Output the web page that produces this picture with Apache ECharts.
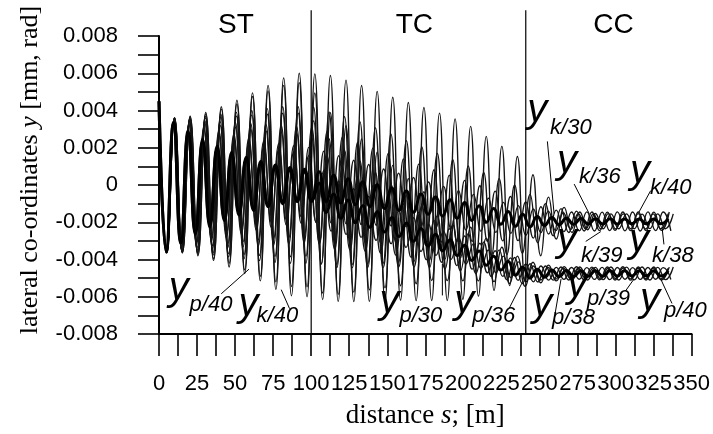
<!DOCTYPE html>
<html>
<head>
<meta charset="utf-8">
<script src="https://cdn.jsdelivr.net/npm/echarts/dist/echarts.min.js"></script>
<style>
  html, body { margin: 0; padding: 0; background: #fff; }
  #chart { width: 713px; height: 434px; }
</style>
</head>
<body>
<div id="chart"></div>
<script>
// Lateral displacements along the route: straight track (ST), transition curve (TC), circular curve (CC).
// Each response is stored as its successive extremes, sampled every half wavelength [m].

const halfWave = { v40: 5.12, v39: 5.08, v38: 5.02, v36: 4.92, v30: 4.78 };

const yk40 = [4.5e-3,-3.6e-3,3.6e-3,-3.65e-3,3.7e-3,-3.8e-3,3.9e-3,-4.05e-3,4.2e-3,-4.4e-3,4.55e-3,-4.75e-3,4.95e-3,-5.15e-3,5.35e-3,-5.6e-3,5.75e-3,-5.95e-3,6.0e-3,-6.0e-3,
  5.97e-3,-6.15e-3,5.88e-3,-6.25e-3,5.63e-3,-6.26e-3,5.34e-3,-6.25e-3,5.03e-3,-6.2e-3,4.71e-3,-6.18e-3,4.43e-3,-6.21e-3,4.16e-3,-6.2e-3,3.86e-3,-6.2e-3,3.55e-3,-6.14e-3,3.15e-3,-5.97e-3,2.61e-3,-5.66e-3,2.07e-3,-5.4e-3,1.53e-3,-5.14e-3,
  0.55e-3,-3.8e-3,-0.65e-3,-2.9e-3,-1.2e-3,-2.55e-3,-1.45e-3,-2.4e-3,-1.53e-3,-2.35e-3,-1.55e-3,-2.35e-3,-1.55e-3,-2.35e-3,-1.56e-3,-2.34e-3,-1.55e-3,-2.35e-3,-1.55e-3];

const yp40 = [4.5e-3,-3.6e-3,3.6e-3,-3.62e-3,3.65e-3,-3.73e-3,3.82e-3,-3.95e-3,4.07e-3,-4.2e-3,4.35e-3,-4.55e-3,4.75e-3,-4.9e-3,5.05e-3,-5.2e-3,5.35e-3,-5.45e-3,5.5e-3,-5.47e-3,
  4.94e-3,-5.8e-3,3.88e-3,-5.87e-3,3.18e-3,-5.75e-3,2.47e-3,-5.63e-3,1.76e-3,-5.52e-3,1.05e-3,-5.41e-3,0.34e-3,-5.3e-3,-0.36e-3,-5.13e-3,-1.07e-3,-5.13e-3,-1.66e-3,-5.15e-3,-2.26e-3,-5.15e-3,-2.85e-3,-5.19e-3,-3.34e-3,-5.29e-3,-3.82e-3,-5.44e-3,
  -4.15e-3,-5.25e-3,-4.3e-3,-5.15e-3,-4.38e-3,-5.1e-3,-4.4e-3,-5.1e-3,-4.42e-3,-5.08e-3,-4.4e-3,-5.1e-3,-4.41e-3,-5.09e-3,-4.4e-3,-5.1e-3,-4.42e-3,-5.08e-3,-4.4e-3];

const yk39 = [4.5e-3,-3.6e-3,3.6e-3,-3.6e-3,3.6e-3,-3.65e-3,3.7e-3,-3.76e-3,3.8e-3,-3.86e-3,3.9e-3,-3.96e-3,4.0e-3,-4.06e-3,4.1e-3,-4.16e-3,4.2e-3,-4.2e-3,4.2e-3,-4.2e-3,
  4.18e-3,-4.22e-3,3.92e-3,-4.26e-3,3.67e-3,-4.27e-3,3.38e-3,-4.25e-3,3.07e-3,-4.2e-3,2.73e-3,-4.14e-3,2.38e-3,-4.09e-3,2.04e-3,-4.03e-3,1.7e-3,-3.97e-3,1.36e-3,-3.91e-3,1.02e-3,-3.85e-3,0.68e-3,-3.79e-3,0.34e-3,-3.73e-3,0,-3.67e-3,
  -0.5e-3,-3.1e-3,-1.0e-3,-2.73e-3,-1.27e-3,-2.55e-3,-1.4e-3,-2.47e-3,-1.45e-3,-2.45e-3,-1.46e-3,-2.44e-3,-1.45e-3,-2.45e-3,-1.45e-3,-2.45e-3,-1.46e-3,-2.44e-3,-1.45e-3];

const yp39 = [4.5e-3,-3.6e-3,3.58e-3,-3.56e-3,3.55e-3,-3.57e-3,3.6e-3,-3.63e-3,3.65e-3,-3.68e-3,3.7e-3,-3.73e-3,3.75e-3,-3.78e-3,3.8e-3,-3.83e-3,3.85e-3,-3.85e-3,3.85e-3,-3.82e-3,
  3.44e-3,-4.25e-3,2.47e-3,-4.44e-3,1.86e-3,-4.44e-3,1.28e-3,-4.43e-3,0.67e-3,-4.43e-3,0.06e-3,-4.4e-3,-0.55e-3,-4.4e-3,-1.12e-3,-4.43e-3,-1.66e-3,-4.51e-3,-2.15e-3,-4.6e-3,-2.62e-3,-4.75e-3,-3.07e-3,-4.92e-3,-3.48e-3,-5.09e-3,-3.89e-3,-5.29e-3,
  -4.23e-3,-5.21e-3,-4.35e-3,-5.11e-3,-4.4e-3,-5.1e-3,-4.39e-3,-5.1e-3,-4.41e-3,-5.09e-3,-4.4e-3,-5.1e-3,-4.39e-3,-5.11e-3,-4.4e-3,-5.1e-3,-4.4e-3,-5.1e-3,-4.41e-3];

const yk38 = [4.5e-3,-3.6e-3,3.57e-3,-3.53e-3,3.5e-3,-3.47e-3,3.45e-3,-3.42e-3,3.4e-3,-3.37e-3,3.35e-3,-3.32e-3,3.3e-3,-3.27e-3,3.25e-3,-3.22e-3,3.2e-3,-3.17e-3,3.15e-3,-3.12e-3,
  3.09e-3,-3.12e-3,2.86e-3,-3.13e-3,2.57e-3,-3.12e-3,2.28e-3,-3.11e-3,1.98e-3,-3.1e-3,1.7e-3,-3.09e-3,1.4e-3,-3.08e-3,1.12e-3,-3.07e-3,0.82e-3,-3.06e-3,0.53e-3,-3.03e-3,0.25e-3,-3.03e-3,-0.04e-3,-3.02e-3,-0.33e-3,-3.0e-3,-0.62e-3,-2.99e-3,
  -0.91e-3,-2.85e-3,-1.17e-3,-2.63e-3,-1.35e-3,-2.5e-3,-1.45e-3,-2.46e-3,-1.44e-3,-2.47e-3,-1.46e-3,-2.45e-3,-1.44e-3,-2.46e-3,-1.45e-3,-2.47e-3,-1.44e-3,-2.45e-3,-1.45e-3,-2.46e-3];

const yp38 = [4.5e-3,-3.6e-3,3.53e-3,-3.47e-3,3.4e-3,-3.35e-3,3.3e-3,-3.25e-3,3.2e-3,-3.15e-3,3.1e-3,-3.05e-3,3.0e-3,-2.95e-3,2.9e-3,-2.87e-3,2.85e-3,-2.82e-3,2.8e-3,-2.77e-3,
  2.51e-3,-3.17e-3,1.59e-3,-3.46e-3,0.99e-3,-3.5e-3,0.45e-3,-3.57e-3,-0.04e-3,-3.67e-3,-0.53e-3,-3.76e-3,-1.02e-3,-3.88e-3,-1.47e-3,-4.01e-3,-1.91e-3,-4.15e-3,-2.35e-3,-4.33e-3,-2.74e-3,-4.52e-3,-3.13e-3,-4.71e-3,-3.53e-3,-4.91e-3,-3.91e-3,-5.12e-3,
  -4.25e-3,-5.2e-3,-4.35e-3,-5.11e-3,-4.42e-3,-5.07e-3,-4.43e-3,-5.06e-3,-4.44e-3,-5.07e-3,-4.42e-3,-5.08e-3,-4.43e-3,-5.06e-3,-4.44e-3,-5.07e-3,-4.43e-3,-5.06e-3,-4.44e-3,-5.07e-3];

const yk36 = [4.5e-3,-3.6e-3,3.5e-3,-3.4e-3,3.3e-3,-3.2e-3,3.1e-3,-3.01e-3,2.91e-3,-2.81e-3,2.72e-3,-2.62e-3,2.52e-3,-2.44e-3,2.37e-3,-2.29e-3,2.22e-3,-2.14e-3,2.11e-3,-2.07e-3,
  2.02e-3,-2.02e-3,1.81e-3,-2.05e-3,1.57e-3,-2.09e-3,1.33e-3,-2.12e-3,1.1e-3,-2.16e-3,0.86e-3,-2.2e-3,0.64e-3,-2.24e-3,0.4e-3,-2.28e-3,0.16e-3,-2.31e-3,-0.07e-3,-2.35e-3,-0.3e-3,-2.41e-3,-0.5e-3,-2.48e-3,-0.71e-3,-2.54e-3,-0.93e-3,-2.6e-3,-1.11e-3,-2.7e-3,
  -1.29e-3,-2.55e-3,-1.4e-3,-2.45e-3,-1.49e-3,-2.38e-3,-1.54e-3,-2.36e-3,-1.55e-3,-2.35e-3,-1.54e-3,-2.36e-3,-1.55e-3,-2.35e-3,-1.54e-3,-2.36e-3,-1.55e-3,-2.35e-3,-1.54e-3];

const yp36 = [4.5e-3,-3.6e-3,3.45e-3,-3.33e-3,3.2e-3,-3.08e-3,2.96e-3,-2.84e-3,2.72e-3,-2.59e-3,2.47e-3,-2.37e-3,2.27e-3,-2.17e-3,2.07e-3,-1.99e-3,1.92e-3,-1.85e-3,1.77e-3,-1.7e-3,
  1.58e-3,-2.02e-3,0.78e-3,-2.48e-3,0.21e-3,-2.65e-3,-0.2e-3,-2.81e-3,-0.61e-3,-2.97e-3,-1.01e-3,-3.15e-3,-1.39e-3,-3.35e-3,-1.76e-3,-3.57e-3,-2.11e-3,-3.78e-3,-2.48e-3,-4.0e-3,-2.82e-3,-4.24e-3,-3.15e-3,-4.48e-3,-3.49e-3,-4.71e-3,-3.82e-3,-4.97e-3,-4.13e-3,-5.2e-3,
  -4.35e-3,-5.1e-3,-4.43e-3,-5.05e-3,-4.46e-3,-5.04e-3,-4.47e-3,-5.03e-3,-4.46e-3,-5.04e-3,-4.47e-3,-5.03e-3,-4.46e-3,-5.04e-3,-4.47e-3,-5.03e-3,-4.46e-3,-5.04e-3,-4.47e-3];

const yk30 = [4.5e-3,-3.6e-3,3.35e-3,-3.13e-3,2.9e-3,-2.66e-3,2.45e-3,-2.26e-3,2.1e-3,-1.92e-3,1.76e-3,-1.62e-3,1.49e-3,-1.37e-3,1.26e-3,-1.17e-3,1.08e-3,-1.0e-3,0.94e-3,-0.89e-3,
  0.85e-3,-0.81e-3,0.71e-3,-0.89e-3,0.53e-3,-0.97e-3,0.34e-3,-1.06e-3,0.17e-3,-1.15e-3,0.01e-3,-1.26e-3,-0.16e-3,-1.36e-3,-0.32e-3,-1.46e-3,-0.48e-3,-1.57e-3,-0.64e-3,-1.67e-3,-0.79e-3,-1.79e-3,-0.94e-3,-1.9e-3,-1.11e-3,-2.0e-3,-1.26e-3,-2.11e-3,-1.42e-3,-2.22e-3,-1.57e-3,
  -2.25e-3,-1.69e-3,-2.18e-3,-1.75e-3,-2.13e-3,-1.78e-3,-2.11e-3,-1.8e-3,-2.1e-3,-1.81e-3,-2.09e-3,-1.81e-3,-2.09e-3,-1.82e-3,-2.08e-3,-1.82e-3,-2.08e-3,-1.82e-3,-2.08e-3,-1.82e-3];

const yp30 = [4.5e-3,-3.6e-3,3.3e-3,-3.04e-3,2.8e-3,-2.55e-3,2.33e-3,-2.12e-3,1.94e-3,-1.77e-3,1.61e-3,-1.47e-3,1.34e-3,-1.22e-3,1.11e-3,-1.02e-3,0.93e-3,-0.86e-3,0.79e-3,-0.74e-3,
  0.7e-3,-0.88e-3,0.09e-3,-1.47e-3,-0.49e-3,-1.79e-3,-0.81e-3,-2.03e-3,-1.12e-3,-2.27e-3,-1.43e-3,-2.52e-3,-1.74e-3,-2.77e-3,-2.04e-3,-3.02e-3,-2.34e-3,-3.27e-3,-2.64e-3,-3.53e-3,-2.94e-3,-3.79e-3,-3.24e-3,-4.05e-3,-3.54e-3,-4.31e-3,-3.83e-3,-4.57e-3,-4.11e-3,-4.84e-3,-4.41e-3,
  -5.0e-3,-4.53e-3,-4.95e-3,-4.57e-3,-4.92e-3,-4.59e-3,-4.91e-3,-4.6e-3,-4.9e-3,-4.6e-3,-4.9e-3,-4.61e-3,-4.89e-3,-4.61e-3,-4.89e-3,-4.61e-3,-4.89e-3,-4.61e-3,-4.89e-3,-4.61e-3];

// Section boundaries [m] and section names
const sectionBounds = [100, 241];
const sectionNames = ['ST', 'TC', 'CC'];

// Axis ranges and tick steps
const xMax = 350, xStep = 12.5, xLabelStep = 25;
const yMin = -0.008, yMax = 0.008, yStep = 0.001;

// ---------------------------------------------------------------
const FONT = '"Liberation Sans", Arial, sans-serif';
const SERIF = '"Liberation Serif", "Times New Roman", serif';

function track(step, vals) {
  return vals.map((v, i) => [Math.round(i * step * 100) / 100, v]);
}

function curve(name, step, vals, bold) {
  return {
    name, type: 'line', data: track(step, vals),
    smooth: 0.5, showSymbol: false, symbol: 'none',
    z: bold ? 4 : 3,
    lineStyle: bold ? { color: '#000', width: 3 } : { color: '#141414', width: 1.35 },
    emphasis: { disabled: true }, silent: true
  };
}

// where the section names and the curve tags sit, in axis units
const sectionNameAt = [[50.5, 0.00858], [167.8, 0.00858], [298.6, 0.00858]];
const dividerTop = 0.00938;
const tags = [
  { sub: 'p/40', yAt: [6.4, -5.59e-3],   subAt: [20.1, -6.45e-3],  from: [40.9, -5.84e-3],  to: [59.1, -4.52e-3] },
  { sub: 'k/40', yAt: [52.3, -6.41e-3],  subAt: [64.1, -7.04e-3],  from: [85.8, -6.64e-3],  to: [80.3, -5.62e-3] },
  { sub: 'p/30', yAt: [144.9, -6.30e-3], subAt: [158.0, -7.04e-3], from: [186.2, -5.93e-3], to: [186.2, -4.24e-3] },
  { sub: 'p/36', yAt: [194.0, -6.30e-3], subAt: [205.9, -7.04e-3], from: [230.1, -6.62e-3], to: [238.6, -5.25e-3] },
  { sub: 'k/30', yAt: [241.9, 3.99e-3],  subAt: [257.0, 3.05e-3],  from: [255.2, 2.34e-3],  to: [259.6, -1.54e-3] },
  { sub: 'k/36', yAt: [261.6, 1.26e-3],  subAt: [276.0, 0.42e-3],  from: [272.8, 0.05e-3],  to: [282.7, -1.54e-3] },
  { sub: 'k/40', yAt: [309.5, 0.73e-3],  subAt: [322.6, -0.18e-3], from: [323.1, -0.30e-3], to: [315.4, -1.45e-3] },
  { sub: 'k/39', yAt: [261.6, -2.95e-3], subAt: [277.3, -3.80e-3], from: [280.4, -3.03e-3], to: [290.3, -2.50e-3] },
  { sub: 'k/38', yAt: [308.9, -2.98e-3], subAt: [324.0, -3.80e-3], from: [331.8, -3.19e-3], to: [330.5, -2.24e-3] },
  { sub: 'p/38', yAt: [245.2, -6.44e-3], subAt: [258.3, -7.15e-3], from: [260.3, -6.89e-3], to: [264.2, -5.04e-3] },
  { sub: 'p/39', yAt: [268.2, -5.41e-3], subAt: [281.3, -6.09e-3], from: [306.7, -5.67e-3], to: [312.1, -5.05e-3] },
  { sub: 'p/40', yAt: [316.0, -6.15e-3], subAt: [331.8, -6.78e-3], from: [337.1, -6.36e-3], to: [329.7, -5.05e-3] }
];

const chart = echarts.init(document.getElementById('chart'), null, { renderer: 'canvas' });

const axisLineStyle = { color: '#000', width: 2 };

chart.setOption({
  animation: false,
  backgroundColor: '#fff',
  grid: { left: 159, right: 20, top: 36, bottom: 95, containLabel: false },
  xAxis: {
    type: 'value', min: 0, max: xMax, interval: xStep,
    name: 'distance {i|s}; [m]', nameLocation: 'middle', nameGap: 68,
    nameTextStyle: { fontFamily: SERIF, fontSize: 27, color: '#000',
      rich: { i: { fontFamily: SERIF, fontSize: 27, fontStyle: 'italic', color: '#000' } } },
    axisLine: { show: true, onZero: false, lineStyle: axisLineStyle },
    axisTick: { show: true, inside: false, length: 22, lineStyle: { color: '#000', width: 1.6 } },
    axisLabel: {
      margin: 39, color: '#000', fontFamily: FONT, fontSize: 22,
      formatter: v => {
        const q = v / xLabelStep;
        return Math.abs(q - Math.round(q)) < 1e-6 ? String(Math.round(v)) : '';
      }
    },
    splitLine: { show: false }
  },
  yAxis: {
    type: 'value', min: yMin, max: yMax, interval: yStep,
    name: 'lateral co-ordinates {i|y} [mm, rad]', nameLocation: 'middle', nameGap: 116, nameRotate: 90,
    nameTextStyle: { fontFamily: SERIF, fontSize: 26, color: '#000', padding: [0, 0, 0, 30],
      rich: { i: { fontFamily: SERIF, fontSize: 26, fontStyle: 'italic', color: '#000' } } },
    axisLine: { show: true, onZero: false, lineStyle: axisLineStyle },
    axisTick: { show: true, inside: false, length: 21, lineStyle: { color: '#000', width: 1.6 } },
    axisLabel: {
      margin: 41, color: '#000', fontFamily: FONT, fontSize: 22,
      formatter: v => {
        const k = Math.round(v * 1000);
        if (k % 2 !== 0) return '';
        return k === 0 ? '0' : (k / 1000).toFixed(3);
      }
    },
    splitLine: { show: false }
  },
  series: [
    curve('y_k/40', halfWave.v40, yk40, false),
    curve('y_p/40', halfWave.v40, yp40, false),
    curve('y_k/39', halfWave.v39, yk39, false),
    curve('y_p/39', halfWave.v39, yp39, false),
    curve('y_k/38', halfWave.v38, yk38, false),
    curve('y_p/38', halfWave.v38, yp38, false),
    curve('y_k/36', halfWave.v36, yk36, false),
    curve('y_p/36', halfWave.v36, yp36, false),
    curve('y_k/30', halfWave.v30, yk30, true),
    curve('y_p/30', halfWave.v30, yp30, true),
    {
      // section dividers
      type: 'custom', clip: false, silent: true, z: 6,
      data: sectionBounds.map(s => [s, yMin]),
      renderItem: (params, api) => {
        const s = api.value(0);
        const p0 = api.coord([s, yMin]);
        const p1 = api.coord([s, dividerTop]);
        return { type: 'line', shape: { x1: p0[0], y1: p0[1], x2: p1[0], y2: p1[1] },
                 style: { stroke: '#000', lineWidth: 1.2 } };
      }
    },
    {
      // section names
      type: 'custom', clip: false, silent: true, z: 6,
      data: sectionNameAt,
      renderItem: (params, api) => {
        const p = api.coord([api.value(0), api.value(1)]);
        return { type: 'text', x: p[0], y: p[1],
                 style: { text: sectionNames[params.dataIndex], fill: '#000',
                          font: '28px ' + FONT, align: 'center', verticalAlign: 'middle' } };
      }
    },
    {
      // curve tags with leader lines
      type: 'custom', clip: false, silent: true, z: 7,
      data: tags.map(t => t.to),
      renderItem: (params, api) => {
        const t = tags[params.dataIndex];
        const a = api.coord(t.from), b = api.coord(t.to);
        const py = api.coord(t.yAt), ps = api.coord(t.subAt);
        return {
          type: 'group',
          children: [
            { type: 'line', shape: { x1: a[0], y1: a[1], x2: b[0], y2: b[1] },
              style: { stroke: '#000', lineWidth: 1 } },
            { type: 'text', x: py[0], y: py[1],
              style: { text: 'y', fill: '#000', font: 'italic 40px ' + FONT, align: 'left', verticalAlign: 'middle' } },
            { type: 'text', x: ps[0], y: ps[1],
              style: { text: t.sub, fill: '#000', font: 'italic 22px ' + FONT, align: 'left', verticalAlign: 'middle' } }
          ]
        };
      }
    }
  ]
});
</script>
</body>
</html>
